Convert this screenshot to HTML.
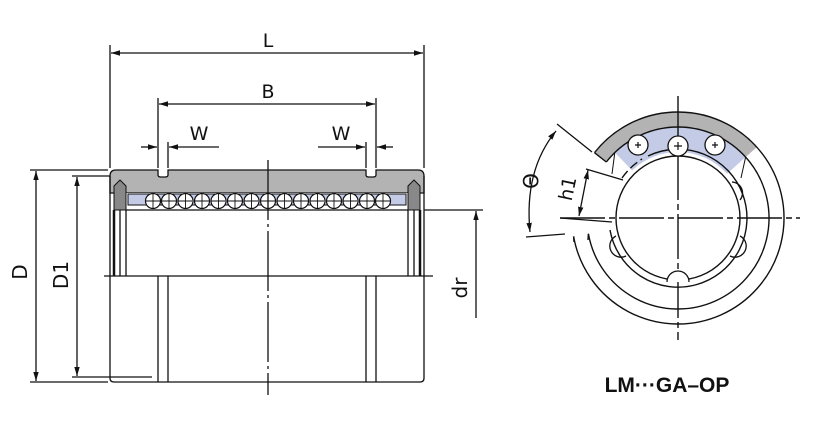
<!DOCTYPE html>
<html><head><meta charset="utf-8"><style>
html,body{margin:0;padding:0;background:#fff;}
svg{display:block;}
text{font-family:"DejaVu Sans","Liberation Sans",sans-serif;fill:#111;}
</style></head><body>
<svg width="818" height="436" viewBox="0 0 818 436" xmlns="http://www.w3.org/2000/svg">
<defs>
<marker id="a" viewBox="0 0 10 10" refX="10" refY="5" markerWidth="7" markerHeight="7" orient="auto-start-reverse"><path d="M0,2 L10,5 L0,8z" fill="#111"/></marker>
</defs>
<g stroke="#111" stroke-width="1.3" fill="none">
<line x1="110" y1="45" x2="110" y2="168"/><line x1="424" y1="45" x2="424" y2="168"/>
<line x1="111" y1="53" x2="423" y2="53" marker-start="url(#a)" marker-end="url(#a)"/>
<line x1="158" y1="98" x2="158" y2="168"/><line x1="376" y1="98" x2="376" y2="168"/>
<line x1="159" y1="104" x2="375" y2="104" marker-start="url(#a)" marker-end="url(#a)"/>
<line x1="168" y1="142" x2="168" y2="168"/><line x1="366" y1="142" x2="366" y2="168"/>
<line x1="141" y1="147" x2="157" y2="147" marker-end="url(#a)"/>
<line x1="169" y1="147" x2="219" y2="147" marker-start="url(#a)"/>
<line x1="318" y1="147" x2="365" y2="147" marker-end="url(#a)"/>
<line x1="377" y1="147" x2="393" y2="147" marker-start="url(#a)"/>
<line x1="30" y1="170" x2="108" y2="170"/><line x1="30" y1="382" x2="108" y2="382"/>
<line x1="36" y1="171" x2="36" y2="381" marker-start="url(#a)" marker-end="url(#a)"/>
<line x1="72" y1="176" x2="152" y2="176"/><line x1="72" y1="377" x2="152" y2="377"/>
<line x1="77" y1="177" x2="77" y2="376" marker-start="url(#a)" marker-end="url(#a)"/>
<line x1="424" y1="210" x2="483" y2="210"/>
<line x1="476" y1="211" x2="476" y2="318" marker-start="url(#a)"/>
</g>
<path d="M110,176 Q110,170 116,170 L158,170 L158,175 Q158,177 161,177 L165,177 Q168,177 168,175 L168,170 L366,170 L366,175 Q366,177 369,177 L373,177 Q376,177 376,175 L376,170 L418,170 Q424,170 424,176 L424,193 L110,193 Z" fill="#b3b3b3" stroke="#111" stroke-width="1.3"/>
<rect x="125" y="193" width="285" height="13" fill="#fff"/>
<rect x="128" y="194" width="278" height="11" fill="#c4cbe6" stroke="#111" stroke-width="1"/>
<path d="M114,186 L120,180 L126,186 L126,210 L114,210Z" fill="#888" stroke="#111" stroke-width="1"/>
<path d="M420,186 L414,180 L408,186 L408,210 L420,210Z" fill="#888" stroke="#111" stroke-width="1"/>
<g stroke="#111" stroke-width="1.2" fill="#fff">
<circle cx="153" cy="201" r="7.5"/><circle cx="169" cy="201" r="7.5"/><circle cx="185.5" cy="201" r="7.5"/><circle cx="202" cy="201" r="7.5"/><circle cx="218.5" cy="201" r="7.5"/><circle cx="235" cy="201" r="7.5"/><circle cx="251.5" cy="201" r="7.5"/><circle cx="268" cy="201" r="7.5"/><circle cx="284.5" cy="201" r="7.5"/><circle cx="301" cy="201" r="7.5"/><circle cx="317.5" cy="201" r="7.5"/><circle cx="334" cy="201" r="7.5"/><circle cx="350.5" cy="201" r="7.5"/><circle cx="367" cy="201" r="7.5"/><circle cx="383" cy="201" r="7.5"/>
</g>
<g stroke="#111" stroke-width="0.9">
<path d="M153,194v14M146,201h14M169,194v14M162,201h14M185.5,194v14M178,201h14M202,194v14M195,201h14M218.5,194v14M211,201h14M235,194v14M228,201h14M251.5,194v14M244,201h14M268,194v14M261,201h14M284.5,194v14M277,201h14M301,194v14M294,201h14M317.5,194v14M310,201h14M334,194v14M327,201h14M350.5,194v14M343,201h14M367,194v14M360,201h14M383,194v14M376,201h14"/>
</g>
<g stroke="#111" stroke-width="1.3" fill="none">
<path d="M110,176 L110,378 Q110,382 114,382 L420,382 Q424,382 424,378 L424,176"/>
<path d="M158,276 L158,382 M168,276 L168,382 M366,276 L366,382 M376,276 L376,382"/>
<line x1="126" y1="210" x2="408" y2="210"/>
<line x1="114" y1="210" x2="114" y2="276" stroke-width="2.5"/>
<line x1="120" y1="210" x2="120" y2="276"/><line x1="126" y1="210" x2="126" y2="276"/>
<line x1="420" y1="210" x2="420" y2="276" stroke-width="2.5"/>
<line x1="414" y1="210" x2="414" y2="276"/><line x1="408" y1="210" x2="408" y2="276"/>
<line x1="104" y1="276" x2="433" y2="276"/>
<line x1="268" y1="160" x2="268" y2="395" stroke-dasharray="60,4,3,4"/>
</g>
<text x="268" y="47" font-size="19" text-anchor="middle">L</text>
<text x="268" y="98" font-size="19" text-anchor="middle">B</text>
<text x="199" y="140" font-size="19" text-anchor="middle">W</text>
<text x="341" y="140" font-size="19" text-anchor="middle">W</text>
<text transform="translate(27,272) rotate(-90)" font-size="20" text-anchor="middle">D</text>
<text transform="translate(68,275) rotate(-90)" font-size="20" text-anchor="middle">D1</text>
<text transform="translate(467,288) rotate(-90)" font-size="20" text-anchor="middle">dr</text>

<g transform="translate(678,218)">
<!-- gray sector -106..91, -142..-42 deg -->
<path d="M-83.5,-65.3 A106,106 0 0 1 78.8,-70.9 L67.6,-60.9 A91,91 0 0 0 -71.7,-56Z" fill="#b3b3b3"/>
<!-- blue sector r 66-91, -134..-42 -->
<path d="M-63.2,-65.5 A91,91 0 0 1 67.6,-60.9 L49,-44.2 A66,66 0 0 0 -45.8,-47.5Z" fill="#c4cbe6"/>
<g stroke="#111" stroke-width="1.4" fill="none">
<path d="M-83.5,-65.3 A106,106 0 1 1 -104.4,18.4"/>
<path d="M-71.7,-56 A91,91 0 1 1 -89.6,15.8"/>
<path d="M-83.5,-65.3 L-71.7,-56"/>
<path d="M-104.4,18.4 L-104,24 M-89.6,15.8 L-90,22"/>
<path d="M-63.2,-65.5 L-66,-44 M67.6,-60.9 L63,-40" stroke-width="1"/>
<circle r="62"/>
<path d="M-56,-40 A69,69 0 0 1 -36,-59" stroke-dasharray="9,4"/>
<path d="M-30,-62 A69,69 0 1 1 -68,12"/>
<line x1="0" y1="-122" x2="0" y2="122" stroke-dasharray="45,4,6,4"/>
<line x1="-118" y1="0" x2="122" y2="0" stroke-dasharray="45,4,6,4"/>
</g>
<g stroke="#111" stroke-width="1.3" fill="#fff">
<circle cx="-40" cy="-73" r="10"/><circle cx="0" cy="-72" r="10"/><circle cx="37" cy="-73" r="10"/>
<path d="M-11,64 A11,11 0 0 1 11,64" />
<path d="M54,-36 A11,11 0 0 1 62,-18" fill="none"/>
<path d="M62,18 A11,11 0 0 1 52,38" fill="none"/>
<path d="M-62,18 A11,11 0 0 0 -52,38" fill="none"/>
</g>
<g stroke="#111" stroke-width="1.2"><path d="M-40,-76v6M-43,-73h6M0,-76v8M-4,-72h8M37,-76v6M34,-73h6"/></g>
</g>
<g stroke="#111" stroke-width="1.3" fill="none">
<line x1="557" y1="124" x2="592" y2="152"/>
<line x1="526" y1="237" x2="565" y2="234"/>
<path d="M556,131 Q524,170 530,232" marker-start="url(#a)" marker-end="url(#a)"/>
<line x1="586" y1="169" x2="623" y2="180"/>
<line x1="560" y1="218" x2="612" y2="222"/>
<line x1="588" y1="170" x2="579" y2="216" marker-start="url(#a)" marker-end="url(#a)"/>
</g>
<text transform="translate(538,181) rotate(-90)" font-size="20" text-anchor="middle">Θ</text>
<text transform="translate(574,190) rotate(-78)" font-size="19" text-anchor="middle">h1</text>
<text x="667" y="392" font-size="21" font-weight="bold" text-anchor="middle" style="font-family:'Liberation Sans',sans-serif">LM···GA–OP</text>
</svg>
</body></html>
